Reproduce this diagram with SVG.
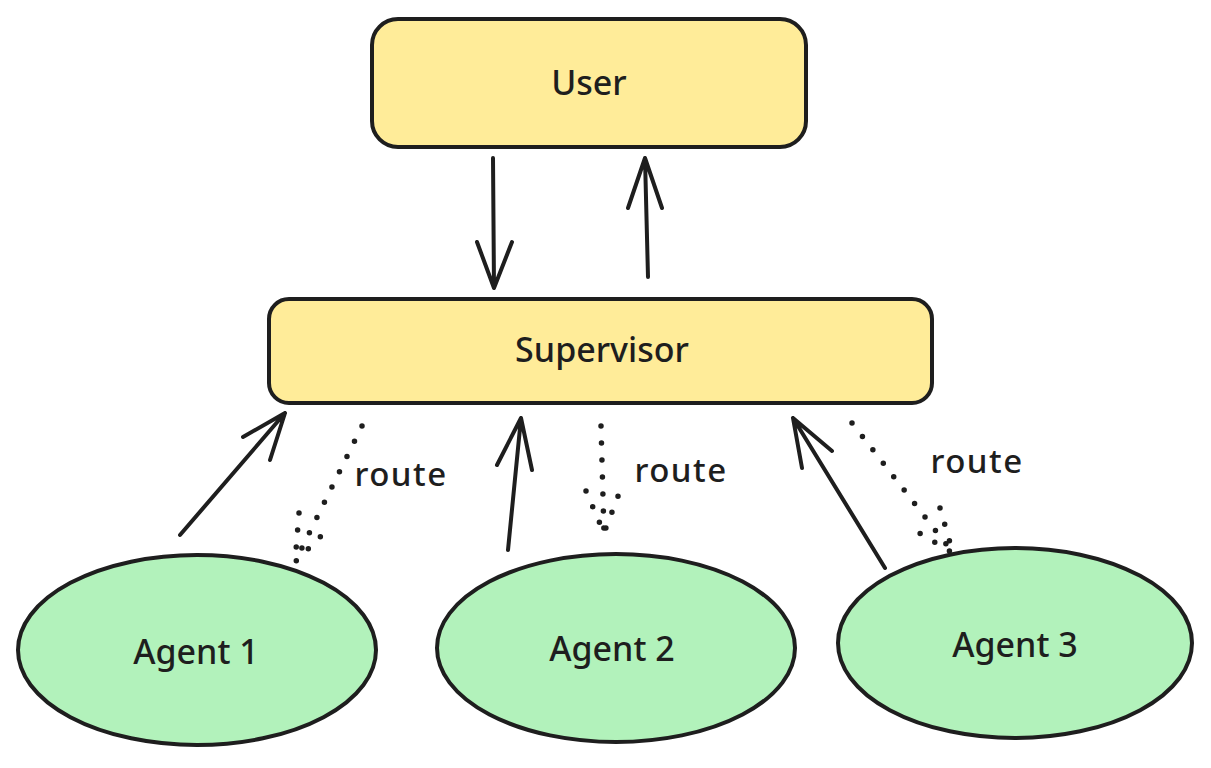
<svg xmlns="http://www.w3.org/2000/svg" width="1211" height="768" viewBox="0 0 1211 768">
<style>
.box{fill:#ffec99;stroke:#1e1e1e;stroke-width:4}
.agent{fill:#b2f2bb;stroke:#1e1e1e;stroke-width:4}
.lbl{font-family:"Noto Sans",sans-serif;font-size:34px;font-weight:500;fill:#1e1e1e;text-anchor:middle;dominant-baseline:central}
.edge{fill:none;stroke:#1e1e1e;stroke-width:4;stroke-linecap:round;stroke-linejoin:round}
.dot{fill:none;stroke:#1e1e1e;stroke-width:5.5;stroke-linecap:round;stroke-dasharray:0 17}
.elbl{font-family:"Noto Sans",sans-serif;font-size:33px;font-weight:500;letter-spacing:1.5px;fill:#1e1e1e;text-anchor:middle}
</style>
<rect width="1211" height="768" fill="#ffffff"/>
<g id="user">
<rect class="box" x="372" y="19" width="434" height="128" rx="26"/>
<text class="lbl" x="589" y="82">User</text>
</g>
<g id="supervisor">
<rect class="box" x="269" y="299" width="663" height="104" rx="20"/>
<text class="lbl" x="602" y="349">Supervisor</text>
</g>
<g id="agent1">
<ellipse class="agent" cx="197" cy="650" rx="179" ry="95"/>
<text class="lbl" x="196" y="651">Agent 1</text>
</g>
<g id="agent2">
<ellipse class="agent" cx="616" cy="648" rx="179" ry="94"/>
<text class="lbl" x="612" y="648">Agent 2</text>
</g>
<g id="agent3">
<ellipse class="agent" cx="1015" cy="643" rx="177" ry="95"/>
<text class="lbl" x="1015" y="644">Agent 3</text>
</g>
<g id="connectors">
<path class="edge" d="M493 158 L494 288 M477 242 L494 288 L512 242"/>
<path class="edge" d="M648 277 L645 158 M628 208 L645 158 L662 208"/>
<path class="edge" d="M180 535 L285 413 M243 437 L285 413 L270 460"/>
<path class="edge" d="M508 550 L521 418 M497 465 L521 418 L532 470"/>
<path class="edge" d="M885 568 L793 418 M802 468 L793 418 L832 451"/>
<path class="dot" d="M362 426 L295 562 M299 513 L295 562 L330 527"/>
<path class="dot" d="M601 426 L604 533 M586 491 L604 533 L620 491"/>
<path class="dot" d="M852 423 L953 553 M940 508 L953 553 L914 530"/>
<text class="elbl" x="401" y="486">route</text>
<text class="elbl" x="681" y="482">route</text>
<text class="elbl" x="977" y="473">route</text>
</g>
</svg>
